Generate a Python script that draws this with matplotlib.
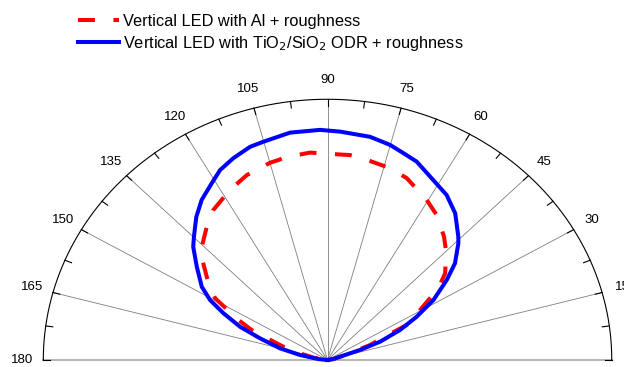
import numpy as np
import matplotlib
matplotlib.use("Agg")
import matplotlib.pyplot as plt

plt.rcParams['font.family'] = ['Liberation Sans', 'DejaVu Sans']

# angular emission pattern, angle in degrees, normalised intensity
angle_al = [0, 10, 17, 21.0, 23.6, 25.7, 30.5, 35.2, 38.8, 44.9, 49.1, 55.4, 60.4,
            68.2, 73.4, 79.8, 84.2, 91.9, 94.4, 100.5, 105.0, 111.8, 117.8, 124.9,
            129.7, 135.5, 139.3, 144.9, 149.1, 153.9, 156.7, 161.0, 163.8, 170, 180]
r_al = [0, 0.02, 0.07, 0.160, 0.208, 0.309, 0.378, 0.477, 0.531, 0.589, 0.626, 0.676,
        0.706, 0.751, 0.768, 0.780, 0.790, 0.793, 0.798, 0.791, 0.783, 0.764, 0.737,
        0.702, 0.665, 0.620, 0.579, 0.512, 0.461, 0.349, 0.291, 0.177, 0.137, 0.05, 0]

angle_odr = [0, 10, 16.1, 18.6, 20.8, 24.3, 27.9, 31.7, 36.2, 39.6, 44.2, 45.8, 51.4,
             56.5, 61.7, 67.6, 71.4, 75.1, 80.1, 87.1, 91.7, 98.6, 105.1, 108.4, 113.2,
             117.4, 121.0, 125.8, 130.1, 134.8, 137.4, 142.1, 147.6, 150.9, 153.9,
             157.5, 160.7, 165.0, 168.8, 174, 180]
r_odr = [0, 0.02, 0.046, 0.121, 0.198, 0.280, 0.355, 0.438, 0.520, 0.582, 0.642, 0.660,
         0.720, 0.759, 0.784, 0.823, 0.837, 0.854, 0.869, 0.877, 0.883, 0.882, 0.867,
         0.862, 0.842, 0.821, 0.791, 0.757, 0.717, 0.667, 0.642, 0.583, 0.524, 0.473,
         0.408, 0.333, 0.252, 0.173, 0.099, 0.03, 0]

grid_angles = np.arange(0, 181, 15)
tick_angles = np.arange(0, 180.1, 7.5)

labels = ["Vertical LED with Al + roughness",
          "Vertical LED with TiO$_2$/SiO$_2$ ODR + roughness"]


def to_xy(theta_deg, r):
    t = np.radians(np.asarray(theta_deg, dtype=float))
    r = np.asarray(r, dtype=float)
    return r * np.cos(t), r * np.sin(t)


fig = plt.figure(figsize=(6.24, 3.67), dpi=100)
ax = fig.add_axes([0.0694, 0.0191, 0.911, 0.7104])
ax.set_xlim(-1, 1)
ax.set_ylim(0, 1)
ax.axis('off')

# spokes (the horizontal one is drawn lighter)
for a in grid_angles:
    x, y = to_xy([a, a], [0, 1])
    if a in (0, 180):
        ax.plot(x, y, color='#b0b0b0', lw=1.3, zorder=1, clip_on=False)
    else:
        ax.plot(x, y, color='#7f7f7f', lw=0.6, zorder=1, clip_on=False)

# outer half circle with inward ticks
x, y = to_xy(np.linspace(0, 180, 361), np.ones(361))
ax.plot(x, y, color='black', lw=0.8, zorder=2, clip_on=False)
for a in tick_angles:
    x, y = to_xy([a, a], [1, 0.975])
    ax.plot(x, y, color='black', lw=0.8, zorder=2, clip_on=False)

for a in grid_angles:
    x, y = to_xy(a, 1.075)
    ax.text(x, y, str(a), ha='center', va='center', fontsize=9.5, clip_on=False)

x, y = to_xy(angle_al, r_al)
l1, = ax.plot(x, y, color='red', lw=2.9, linestyle=(0, (4.2, 4.6)), zorder=3,
              clip_on=False)
x, y = to_xy(angle_odr, r_odr)
l2, = ax.plot(x, y, color='blue', lw=2.9, zorder=4, clip_on=False)

fig.legend([l1, l2], labels, loc='upper left', bbox_to_anchor=(0.125, 0.962),
           frameon=False, fontsize=11.8, handlelength=2.5, handletextpad=0.25,
           borderpad=0, borderaxespad=0, labelspacing=0.32)

fig.savefig('out.png', dpi=100)
